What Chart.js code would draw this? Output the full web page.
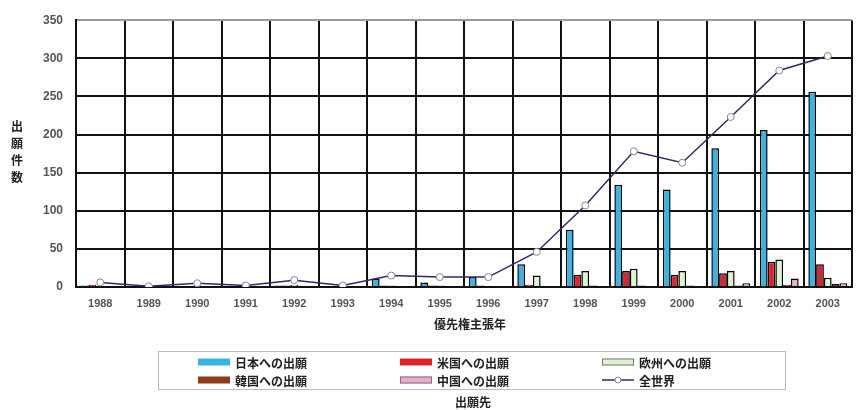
<!DOCTYPE html>
<html>
<head>
<meta charset="utf-8">
<script src="https://cdn.jsdelivr.net/npm/chart.js@4"></script>
<style>
  body { margin: 0; background: #fff; }
  canvas { display: block; }
</style>
</head>
<body>
<canvas id="chart" width="857" height="410"></canvas>
<script>
// years (priority claim year)
const years = ['1988', '1989', '1990', '1991', '1992', '1993', '1994', '1995',
               '1996', '1997', '1998', '1999', '2000', '2001', '2002', '2003'];

// filings by destination
const japan  = [2, 1, 1, 1, 2, 1, 11, 6, 13, 30, 75, 134, 128, 182, 206, 256];
const usa    = [3, 0, 1, 0, 2, 0, 2, 2, 2, 3, 16, 21, 16, 18, 33, 30];
const europe = [1, 0, 2, 1, 3, 1, 2, 2, 1, 15, 21, 24, 21, 21, 36, 12];
const korea  = [0, 0, 0, 0, 1, 0, 1, 1, 1, 1, 2, 2, 2, 2, 3, 4];
const china  = [0, 0, 0, 0, 0, 0, 0, 0, 0, 0, 0, 0, 0, 5, 11, 5];
const world  = [6, 1, 5, 2, 9, 2, 15, 13, 13, 46, 107, 178, 163, 223, 284, 303];

const seriesLabels = ['日本への出願', '米国への出願', '欧州への出願', '韓国への出願', '中国への出願', '全世界'];
const yTicks = [0, 50, 100, 150, 200, 250, 300, 350];

const jpFont = '"Noto Sans CJK JP", sans-serif';
const numFont = '"Liberation Sans", Arial, sans-serif';

function barSet(label, data, color) {
    return {
        type: 'bar',
        label: label,
        data: data,
        backgroundColor: color,
        borderColor: '#000',
        borderWidth: 1.5,
        categoryPercentage: 0.8,
        barPercentage: 1.0,
        order: 1
    };
}

// draws the stacked y title, x title, legend box and legend caption
const extras = {
    id: 'extras',
    afterDraw(chart) {
        const ctx = chart.ctx;
        ctx.save();
        ctx.fillStyle = '#222';
        ctx.textAlign = 'center';
        ctx.textBaseline = 'middle';

        // y title, one character per line
        ctx.font = 'bold 12px ' + jpFont;
        '出願件数'.split('').forEach((ch, i) => {
            ctx.fillText(ch, 17, 126 + i * 17);
        });

        // x title
        ctx.fillText('優先権主張年', 470, 324);

        // legend frame
        ctx.strokeStyle = '#bbb';
        ctx.lineWidth = 1;
        ctx.strokeRect(158.5, 351.5, 627, 38);

        const ds = chart.data.datasets;
        ctx.textAlign = 'left';
        ctx.font = 'bold 12px ' + jpFont;
        ds.forEach((d, i) => {
            const x = 198 + (i % 3) * 202;
            const y = i < 3 ? 362 : 380;
            if (d.type === 'line') {
                ctx.strokeStyle = d.borderColor;
                ctx.lineWidth = 1.5;
                ctx.beginPath();
                ctx.moveTo(x, y);
                ctx.lineTo(x + 32, y);
                ctx.stroke();
                ctx.beginPath();
                ctx.arc(x + 16, y, 3, 0, Math.PI * 2);
                ctx.fillStyle = '#fff';
                ctx.fill();
                ctx.strokeStyle = '#888';
                ctx.lineWidth = 1;
                ctx.stroke();
            } else {
                ctx.fillStyle = d.backgroundColor;
                ctx.fillRect(x, y - 3.5, 32, 7);
                if (d.label === '欧州への出願' || d.label === '中国への出願') {
                    ctx.strokeStyle = '#777';
                    ctx.lineWidth = 1;
                    ctx.strokeRect(x + 0.5, y - 3, 31, 6);
                }
            }
            ctx.fillStyle = '#222';
            ctx.fillText(d.label, x + 37, y + 1);
        });

        // caption under the legend
        ctx.textAlign = 'center';
        ctx.fillText('出願先', 473, 402);
        ctx.restore();
    }
};

new Chart(document.getElementById('chart'), {
    data: {
        labels: years,
        datasets: [
            barSet(seriesLabels[0], japan, '#35B6E3'),
            barSet(seriesLabels[1], usa, '#E2212A'),
            barSet(seriesLabels[2], europe, '#DDF5CF'),
            barSet(seriesLabels[3], korea, '#8E3B17'),
            barSet(seriesLabels[4], china, '#F2A9CB'),
            {
                type: 'line',
                label: seriesLabels[5],
                data: world,
                borderColor: '#2C2A6C',
                borderWidth: 1.5,
                pointRadius: 3.5,
                pointBackgroundColor: '#fff',
                pointBorderColor: '#888',
                pointBorderWidth: 1,
                tension: 0,
                order: 0
            }
        ]
    },
    options: {
        responsive: false,
        animation: false,
        layout: { padding: { top: 18, right: 0, bottom: 0, left: 0 } },
        plugins: {
            legend: { display: false },
            tooltip: { enabled: false }
        },
        scales: {
            x: {
                offset: true,
                grid: {
                    offset: true,
                    color: '#111',
                    lineWidth: 2,
                    drawTicks: false
                },
                border: { color: '#111', width: 2 },
                ticks: {
                    padding: 10,
                    color: '#555',
                    font: { family: numFont, size: 11, weight: 'bold' },
                    maxRotation: 0,
                    autoSkip: false
                },
                afterFit(scale) { scale.height = 123; }
            },
            y: {
                min: 0,
                max: 350,
                afterBuildTicks(scale) {
                    scale.ticks = yTicks.map(v => ({ value: v }));
                },
                grid: {
                    color: ctx => ctx.tick && ctx.tick.value === 350 ? '#999' : '#111',
                    lineWidth: 2,
                    drawTicks: false
                },
                border: { color: '#111', width: 2 },
                ticks: {
                    padding: 13,
                    color: '#555',
                    font: { family: numFont, size: 12, weight: 'bold' }
                },
                afterFit(scale) { scale.width = 76; }
            }
        }
    },
    plugins: [extras]
});
</script>
</body>
</html>
